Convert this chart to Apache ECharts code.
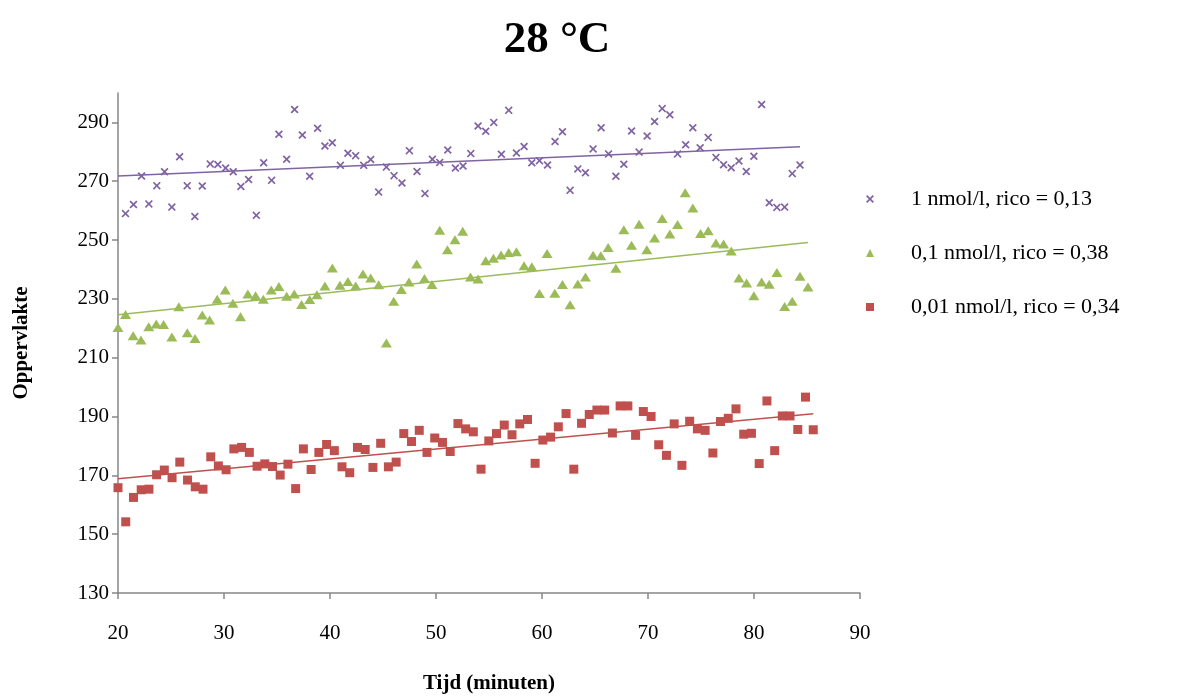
<!DOCTYPE html>
<html><head><meta charset="utf-8">
<script src="https://cdn.jsdelivr.net/npm/echarts@6/dist/echarts.min.js"></script>
<style>html,body{margin:0;padding:0;background:#fff}#c{width:1202px;height:696px}</style>
</head><body><div id="c"></div>
<script>
const chartTitle = '28 °C';
const xName = 'Tijd (minuten)';
const yName = 'Oppervlakte';
const seriesNames = ['1 nmol/l, rico = 0,13', '0,1 nmol/l, rico = 0,38', '0,01 nmol/l, rico = 0,34'];
const colors = ['#8064A2', '#9BBB59', '#C0504D'];
const yTicks = [130, 150, 170, 190, 210, 230, 250, 270, 290];
const xTicks = [20, 30, 40, 50, 60, 70, 80, 90];

// 1 nmol/l
const tijd1 = [20.71,21.46,22.22,22.91,23.66,24.39,25.08,25.81,26.53,27.25,27.95,28.70,29.42,30.15,30.87,31.59,32.32,33.05,33.74,34.49,35.18,35.91,36.66,37.39,38.08,38.83,39.52,40.22,40.98,41.69,42.42,43.18,43.84,44.59,45.32,46.04,46.79,47.49,48.21,48.96,49.66,50.35,51.11,51.83,52.55,53.28,53.97,54.69,55.45,56.17,56.86,57.59,58.31,59.04,59.76,60.52,61.23,61.93,62.65,63.38,64.10,64.82,65.58,66.28,66.97,67.72,68.45,69.16,69.92,70.62,71.34,72.06,72.79,73.55,74.23,74.92,75.68,76.41,77.13,77.85,78.58,79.27,79.99,80.72,81.44,82.16,82.89,83.61,84.34];
const opp1 = [259.0,262.1,271.8,262.3,268.5,273.2,261.2,278.3,268.5,258.0,268.4,275.9,275.7,274.5,273.2,268.2,270.6,258.4,276.3,270.3,286.0,277.5,294.4,285.7,271.7,288.0,282.0,283.1,275.4,279.5,278.7,275.4,277.4,266.3,274.8,271.9,269.4,280.4,273.3,265.8,277.5,276.4,280.6,274.5,275.2,279.4,288.8,287.0,290.0,279.2,294.1,279.6,281.8,276.3,277.0,275.5,283.5,286.8,266.9,274.2,272.9,281.0,288.2,279.3,271.7,275.8,287.1,279.9,285.4,290.3,294.7,292.6,279.3,282.4,288.2,281.4,284.9,278.1,275.6,274.6,276.9,273.3,278.5,296.1,262.7,261.1,261.2,272.6,275.5];

// 0,1 nmol/l
const tijd2 = [20.00,20.71,21.43,22.17,22.90,23.61,24.30,25.08,25.74,26.54,27.27,27.95,28.64,29.36,30.12,30.84,31.56,32.25,32.98,33.71,34.46,35.18,35.91,36.63,37.32,38.08,38.77,39.52,40.22,40.94,41.69,42.42,43.11,43.84,44.59,45.32,46.01,46.73,47.45,48.18,48.91,49.62,50.35,51.08,51.79,52.52,53.25,53.97,54.69,55.42,56.14,56.86,57.59,58.31,59.04,59.76,60.48,61.21,61.93,62.65,63.38,64.10,64.82,65.55,66.24,66.97,67.72,68.45,69.16,69.89,70.62,71.34,72.06,72.79,73.51,74.23,74.96,75.68,76.41,77.13,77.85,78.58,79.30,79.99,80.72,81.44,82.16,82.89,83.61,84.34,85.09];
const opp2 = [220.3,224.7,217.5,216.0,220.5,221.5,221.3,217.0,227.3,218.5,216.5,224.5,222.8,229.9,233.0,228.5,223.9,231.7,231.1,229.9,233.0,234.2,230.9,231.7,228.1,229.8,231.4,234.4,240.5,234.6,235.9,234.4,238.5,237.1,234.8,215.0,229.2,233.2,235.7,241.9,236.9,234.9,253.3,246.7,250.1,253.0,237.4,236.8,243.0,243.8,244.9,245.8,246.0,241.3,240.9,231.8,245.4,231.9,234.9,228.0,235.1,237.4,244.8,244.7,247.5,240.4,253.5,248.2,255.4,246.7,250.7,257.3,252.1,255.3,266.1,260.9,252.2,253.2,249.0,248.7,246.3,237.1,235.4,231.1,235.7,235.0,239.0,227.4,229.2,237.7,234.0];

// 0,01 nmol/l
const tijd3 = [20.00,20.73,21.46,22.19,22.92,23.64,24.37,25.10,25.83,26.56,27.29,28.02,28.75,29.47,30.20,30.93,31.66,32.39,33.12,33.85,34.58,35.30,36.03,36.76,37.49,38.22,38.95,39.68,40.41,41.13,41.86,42.59,43.32,44.05,44.78,45.51,46.24,46.96,47.69,48.42,49.15,49.88,50.61,51.34,52.07,52.80,53.52,54.25,54.98,55.71,56.44,57.17,57.90,58.63,59.35,60.08,60.81,61.54,62.27,63.00,63.73,64.46,65.18,65.91,66.64,67.37,68.10,68.83,69.56,70.29,71.01,71.74,72.47,73.20,73.93,74.66,75.39,76.12,76.84,77.57,78.30,79.03,79.76,80.49,81.22,81.95,82.67,83.40,84.13,84.86,85.59];
const opp3 = [165.8,154.2,162.5,165.1,165.3,170.2,171.8,169.2,174.5,168.4,166.1,165.3,176.3,173.2,171.9,179.0,179.5,177.8,173.1,173.9,173.0,170.1,173.8,165.5,179.0,172.0,177.8,180.5,178.4,172.9,170.9,179.5,178.8,172.7,180.9,172.9,174.5,184.2,181.5,185.3,177.8,182.7,181.2,178.1,187.6,185.8,184.8,172.1,181.7,184.2,187.1,183.8,187.5,189.0,174.1,182.0,183.0,186.5,191.0,172.1,187.7,190.7,192.2,192.2,184.4,193.6,193.6,183.6,191.7,190.0,180.4,176.8,187.5,173.4,188.4,185.8,185.3,177.6,188.3,189.4,192.6,184.0,184.3,174.0,195.3,178.4,190.2,190.2,185.6,196.6,185.5];

const crossPath = 'path://M0,1.5L1.5,0L5,3.5L8.5,0L10,1.5L6.5,5L10,8.5L8.5,10L5,6.5L1.5,10L0,8.5L3.5,5Z';
const symbols = [crossPath, 'triangle', 'rect'];
const symbolSizes = [8, [11, 9], 9];

function pairs(xs, ys) { return xs.map((x, i) => [x, ys[i]]); }
function trend(xs, ys, x0) {
  const n = xs.length;
  let sx = 0, sy = 0, sxx = 0, sxy = 0;
  for (let i = 0; i < n; i++) { sx += xs[i]; sy += ys[i]; sxx += xs[i] * xs[i]; sxy += xs[i] * ys[i]; }
  const b = (n * sxy - sx * sy) / (n * sxx - sx * sx);
  const a = (sy - b * sx) / n;
  const x1 = Math.max.apply(null, xs);
  return [[x0, a + b * x0], [x1, a + b * x1]];
}

const sets = [[tijd1, opp1], [tijd2, opp2], [tijd3, opp3]];
const FONT = 'Liberation Serif';
const series = [];
sets.forEach((s, i) => {
  series.push({
    type: 'line', data: trend(s[0], s[1], xTicks[0]), showSymbol: false, symbol: 'none',
    lineStyle: { color: colors[i], width: 1.5 }, silent: true, z: 1, legendHoverLink: false
  });
});
sets.forEach((s, i) => {
  series.push({
    name: seriesNames[i], type: 'scatter', data: pairs(s[0], s[1]),
    symbol: symbols[i], symbolSize: symbolSizes[i],
    itemStyle: { color: colors[i], opacity: 1 }, z: 2
  });
});

const chart = echarts.init(document.getElementById('c'), null, { renderer: 'canvas' });
chart.setOption({
  animation: false,
  backgroundColor: '#fff',
  title: {
    text: chartTitle, left: 552, top: 13, textAlign: 'center',
    textStyle: { fontFamily: FONT, fontWeight: 'bold', fontSize: 45, color: '#000' }
  },
  legend: {
    orient: 'vertical', left: 861, top: 183, itemWidth: 8, itemHeight: 8, itemGap: 32,
    data: seriesNames,
    textStyle: { fontFamily: FONT, fontSize: 22, color: '#000', padding: [0, 0, 0, 32] }
  },
  grid: { left: 118, right: 342, top: 93, bottom: 103, containLabel: false, outerBoundsMode: 'none' },
  xAxis: {
    type: 'value', min: 20, max: 90, interval: 10,
    name: xName, nameLocation: 'middle', nameGap: 80,
    nameTextStyle: { fontFamily: FONT, fontWeight: 'bold', fontSize: 21, color: '#000' },
    axisLine: { show: true, lineStyle: { color: '#868686', width: 1.5 } },
    axisTick: { show: true, length: 6, lineStyle: { color: '#868686', width: 1.5 } },
    axisLabel: { fontFamily: FONT, fontSize: 21, color: '#000', margin: 30 },
    splitLine: { show: false }
  },
  yAxis: {
    type: 'value', min: 130, max: 300, interval: 20,
    name: yName, nameLocation: 'middle', nameGap: 86, nameRotate: 90,
    nameTextStyle: { fontFamily: FONT, fontWeight: 'bold', fontSize: 21, color: '#000' },
    axisLine: { show: true, lineStyle: { color: '#868686', width: 1.5 } },
    axisTick: { show: true, length: 6, customValues: yTicks, lineStyle: { color: '#868686', width: 1.5 } },
    axisLabel: { fontFamily: FONT, fontSize: 21, color: '#000', margin: 9, customValues: yTicks },
    splitLine: { show: false }
  },
  series: series
});
</script>
</body></html>
